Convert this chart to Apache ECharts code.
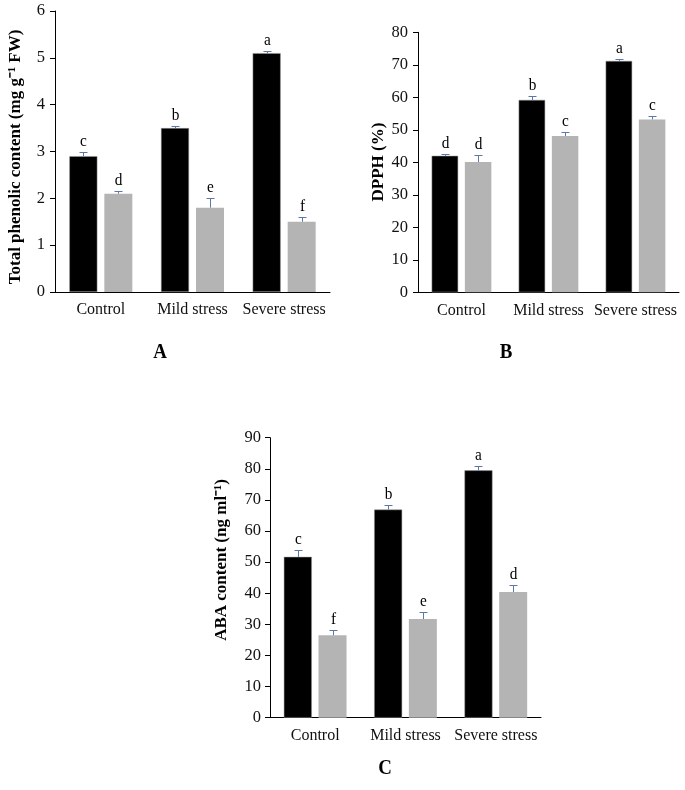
<!DOCTYPE html>
<html><head><meta charset="utf-8">
<script src="https://cdn.jsdelivr.net/npm/echarts@6/dist/echarts.min.js"></script>
<style>html,body{margin:0;padding:0;background:#fff}#c{width:685px;height:790px}</style>
</head><body><div id="c"></div>
<script>
// ---- data ----
const categories = ['Control', 'Mild stress', 'Severe stress'];

const phenolicBlack = [2.9, 3.5, 5.1];
const phenolicGray = [2.1, 1.8, 1.5];
const phenolicBlackErr = [0.1, 0.05, 0.05];
const phenolicGrayErr = [0.05, 0.2, 0.1];
const phenolicBlackLetters = ['c', 'b', 'a'];
const phenolicGrayLetters = ['d', 'e', 'f'];

const dpphBlack = [42, 59.2, 71.2];
const dpphGray = [40.1, 48.1, 53.2];
const dpphBlackErr = [0.5, 1.2, 0.7];
const dpphGrayErr = [2.2, 1.1, 0.9];
const dpphBlackLetters = ['d', 'b', 'a'];
const dpphGrayLetters = ['d', 'c', 'c'];

const abaBlack = [51.7, 66.9, 79.5];
const abaGray = [26.5, 31.7, 40.4];
const abaBlackErr = [2.1, 1.6, 1.3];
const abaGrayErr = [1.6, 2.4, 2.2];
const abaBlackLetters = ['c', 'b', 'a'];
const abaGrayLetters = ['f', 'e', 'd'];

const titleA = 'Total phenolic content (mg g\u207B\u00B9 FW)';
const titleB = 'DPPH (%)';
const titleC = 'ABA content (ng ml\u207B\u00B9)';

// ---- styling ----
const FONT = '"Liberation Serif", "Times New Roman", serif';
const BLACK = '#000000';
const GRAY = '#B4B4B4';
const ERR = '#5B78A8';

const panels = [
  { grid: { left: 55, top: 11, width: 275, height: 281 }, min: 0, max: 6, interval: 1,
    black: phenolicBlack, gray: phenolicGray, bErr: phenolicBlackErr, gErr: phenolicGrayErr,
    bL: phenolicBlackLetters, gL: phenolicGrayLetters, bw: 28, gap: 7, labelMargin: 10 },
  { grid: { left: 418, top: 32.3, width: 261, height: 260 }, min: 0, max: 80, interval: 10,
    black: dpphBlack, gray: dpphGray, bErr: dpphBlackErr, gErr: dpphGrayErr,
    bL: dpphBlackLetters, gL: dpphGrayLetters, bw: 26.5, gap: 6.7, labelMargin: 10 },
  { grid: { left: 270, top: 437.7, width: 271, height: 280 }, min: 0, max: 90, interval: 10,
    black: abaBlack, gray: abaGray, bErr: abaBlackErr, gErr: abaGrayErr,
    bL: abaBlackLetters, gL: abaGrayLetters, bw: 28, gap: 6.7, labelMargin: 9 }
];

function errRender(letters, offset) {
  return function (params, api) {
    const i = api.value(0), v = api.value(1), e = api.value(2);
    const base = api.coord([i, v]);
    const top = api.coord([i, v + e]);
    const x = Math.round(base[0] + offset) + 0.5;
    const yt = Math.round(top[1]) + 0.5;
    return { type: 'group', children: [
      { type: 'line', shape: { x1: x, y1: base[1], x2: x, y2: yt }, style: { stroke: ERR, lineWidth: 1 } },
      { type: 'line', shape: { x1: x - 4, y1: yt, x2: x + 4, y2: yt }, style: { stroke: ERR, lineWidth: 1 } },
      { type: 'text', x: x, y: yt - 2, scaleX: 0.9, style: { text: letters[params.dataIndex], textAlign: 'center', textVerticalAlign: 'bottom', font: '17px ' + FONT, fill: '#000' } }
    ] };
  };
}

const option = { animation: false, backgroundColor: '#fff', grid: [], xAxis: [], yAxis: [], series: [] };
panels.forEach((p, k) => {
  option.grid.push(Object.assign({ containLabel: false }, p.grid));
  option.xAxis.push({ type: 'category', gridIndex: k, data: categories,
    axisLine: { show: true, lineStyle: { color: '#000', width: 1 } }, axisTick: { show: false },
    axisLabel: { show: true, margin: 10, color: '#111', fontFamily: FONT, fontSize: 16, interval: 0 },
    splitLine: { show: false } });
  option.yAxis.push({ type: 'value', gridIndex: k, min: p.min, max: p.max, interval: p.interval,
    axisLine: { show: true, lineStyle: { color: '#000', width: 1 } },
    axisTick: { show: true, inside: false, length: 5, lineStyle: { color: '#000', width: 1 } },
    axisLabel: { show: true, margin: p.labelMargin, color: '#111', fontFamily: FONT, fontSize: 16.5 },
    splitLine: { show: false } });
  const gapPct = (p.gap / p.bw * 100) + '%';
  option.series.push({ type: 'bar', xAxisIndex: k, yAxisIndex: k, data: p.black, barWidth: p.bw, barGap: gapPct,
    itemStyle: { color: BLACK, borderColor: '#9a9a9a', borderWidth: 0.5 }, z: 2 });
  option.series.push({ type: 'bar', xAxisIndex: k, yAxisIndex: k, data: p.gray, barWidth: p.bw, barGap: gapPct,
    itemStyle: { color: GRAY }, z: 2 });
  const off = (p.bw + p.gap) / 2;
  option.series.push({ type: 'custom', xAxisIndex: k, yAxisIndex: k, clip: false, z: 5,
    encode: { x: 0, y: 1 },
    data: p.black.map((v, i) => [i, v, p.bErr[i]]), renderItem: errRender(p.bL, -off) });
  option.series.push({ type: 'custom', xAxisIndex: k, yAxisIndex: k, clip: false, z: 5,
    encode: { x: 0, y: 1 },
    data: p.gray.map((v, i) => [i, v, p.gErr[i]]), renderItem: errRender(p.gL, off) });
});

const tf = 'bold 17px ' + FONT;
option.graphic = [
  { type: 'text', x: 16, y: 157, rotation: Math.PI / 2, style: { text: titleA, font: tf, fill: '#000', textAlign: 'center', textVerticalAlign: 'middle' } },
  { type: 'text', x: 379, y: 162, rotation: Math.PI / 2, style: { text: titleB, font: tf, fill: '#000', textAlign: 'center', textVerticalAlign: 'middle' } },
  { type: 'text', x: 222, y: 560, rotation: Math.PI / 2, style: { text: titleC, font: tf, fill: '#000', textAlign: 'center', textVerticalAlign: 'middle' } },
  { type: 'text', x: 160, y: 353, scaleX: 0.9, style: { text: 'A', font: 'bold 21px ' + FONT, fill: '#000', textAlign: 'center', textVerticalAlign: 'middle' } },
  { type: 'text', x: 506, y: 353, scaleX: 0.9, style: { text: 'B', font: 'bold 21px ' + FONT, fill: '#000', textAlign: 'center', textVerticalAlign: 'middle' } },
  { type: 'text', x: 385, y: 769, scaleX: 0.9, style: { text: 'C', font: 'bold 21px ' + FONT, fill: '#000', textAlign: 'center', textVerticalAlign: 'middle' } }
];

const chart = echarts.init(document.getElementById('c'), null, { renderer: 'canvas', width: 685, height: 790 });
chart.setOption(option);
</script>
</body></html>
